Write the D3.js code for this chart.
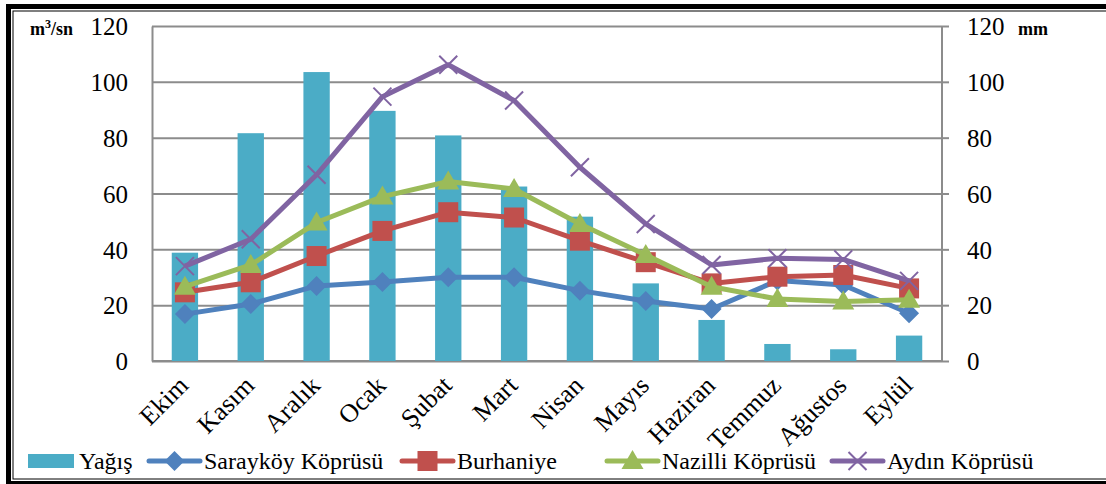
<!DOCTYPE html>
<html>
<head>
<meta charset="utf-8">
<script src="https://cdn.jsdelivr.net/npm/d3@7"></script>
<style>
  body { margin: 0; background: #fff; }
  svg { display: block; }
  svg text { font-family: "Liberation Serif", "Times New Roman", serif; }
</style>
</head>
<body>
<div id="main"></div>
<script>
const w = 1106, h = 484;
const months = ['Ekim', 'Kasım', 'Aralık', 'Ocak', 'Şubat', 'Mart', 'Nisan', 'Mayıs', 'Haziran', 'Temmuz', 'Ağustos', 'Eylül'];
const yagis = [38.8, 81.6, 103.5, 89.6, 80.8, 62.5, 51.7, 27.8, 14.7, 6.1, 4.2, 9.1];
const saraykoy = [16.8, 20.4, 26.9, 28.3, 30.0, 30.0, 25.2, 21.5, 18.6, 28.8, 27.2, 17.1];
const burhaniye = [24.6, 28.2, 37.6, 46.6, 53.3, 51.4, 43.1, 35.4, 27.8, 30.2, 30.8, 26.0];
const nazilli = [26.6, 34.4, 49.6, 58.9, 64.3, 61.6, 49.1, 38.0, 26.6, 22.2, 21.3, 21.9];
const aydin = [34.0, 43.6, 66.7, 94.7, 106.1, 93.3, 69.4, 49.1, 34.4, 36.8, 36.4, 28.7];
const yTicks = [0, 20, 40, 60, 80, 100, 120];

const series = [
  { name: 'Sarayköy Köprüsü', values: saraykoy, color: '#4f81bd', marker: 'diamond' },
  { name: 'Burhaniye', values: burhaniye, color: '#c0504d', marker: 'square' },
  { name: 'Nazilli Köprüsü', values: nazilli, color: '#9bbb59', marker: 'triangle' },
  { name: 'Aydın Köprüsü', values: aydin, color: '#8064a2', marker: 'cross' }
];
const barColor = '#4bacc6', gridColor = '#8c8c8c';
const serif = '"Liberation Serif", "Times New Roman", serif';

const plotLeft = 152, plotRight = 942, plotTop = 26, plotBottom = 361;

const svg = d3.select('#main').append('svg')
  .attr('width', w).attr('height', h);

// frame
svg.append('rect').attr('x', 8.5).attr('y', 6.5).attr('width', 1200).attr('height', 477)
  .attr('fill', 'none').attr('stroke', '#000').attr('stroke-width', 5);
svg.append('rect').attr('x', 13).attr('y', 11).attr('width', 1200).attr('height', 468)
  .attr('fill', 'none').attr('stroke', '#000').attr('stroke-width', 1);

const x = d3.scaleBand().domain(months).range([plotLeft, plotRight]).paddingInner(0.6).paddingOuter(0.3);
const xc = d => x(d) + x.bandwidth() / 2;
const y = d3.scaleLinear().domain([0, 120]).range([plotBottom, plotTop]);

// grid
const grid = svg.append('g').attr('transform', 'translate(' + plotLeft + ',0)')
  .call(d3.axisLeft(y).tickValues(yTicks).tickSize(-(plotRight - plotLeft)).tickFormat(''));
grid.select('.domain').remove();
grid.selectAll('line').attr('stroke', gridColor).attr('stroke-width', 2);

// left axis
const yLeft = svg.append('g').attr('transform', 'translate(' + plotLeft + ',0)')
  .call(d3.axisLeft(y).tickValues(yTicks).tickSize(0).tickPadding(24));
yLeft.attr('font-family', serif);
yLeft.select('.domain').attr('stroke', gridColor).attr('stroke-width', 2);
yLeft.selectAll('text').attr('font-size', 25).attr('fill', '#000').attr('dy', '0.35em');

// right axis
const yRight = svg.append('g').attr('transform', 'translate(' + plotRight + ',0)')
  .call(d3.axisRight(y).tickValues(yTicks).tickSize(7).tickPadding(18));
yRight.attr('font-family', serif);
yRight.select('.domain').attr('stroke', gridColor).attr('stroke-width', 2).attr('d', 'M0,' + plotTop + 'V' + plotBottom);
yRight.selectAll('line').attr('stroke', gridColor).attr('stroke-width', 2);
yRight.selectAll('text').attr('font-size', 25).attr('fill', '#000').attr('dy', '0.35em');

// bottom axis
const xAxis = svg.append('g').attr('transform', 'translate(0,' + plotBottom + ')')
  .call(d3.axisBottom(x).tickSize(0).tickPadding(0));
xAxis.attr('font-family', serif);
xAxis.select('.domain').attr('stroke', gridColor).attr('stroke-width', 2)
  .attr('d', 'M' + plotLeft + ',0H' + plotRight);
xAxis.selectAll('text')
  .attr('font-size', 26).attr('fill', '#000')
  .attr('text-anchor', 'end')
  .attr('dy', 0)
  .attr('transform', 'translate(5,26) rotate(-45)');

// unit labels
svg.append('text').attr('x', 30).attr('y', 35).attr('font-size', 18).attr('font-weight', 'bold')
  .attr('font-family', serif)
  .html('m<tspan font-size="12" dy="-7">3</tspan><tspan dy="7">/sn</tspan>');
svg.append('text').attr('x', 1018).attr('y', 35).attr('font-size', 18).attr('font-weight', 'bold')
  .attr('font-family', serif).text('mm');

// bars
svg.append('g').selectAll('rect').data(yagis).join('rect')
  .attr('x', (d, i) => x(months[i]))
  .attr('y', d => y(d))
  .attr('width', x.bandwidth())
  .attr('height', d => plotBottom - y(d))
  .attr('fill', barColor);

function drawMarker(g, type, color) {
  if (type === 'diamond') {
    g.append('path').attr('d', 'M0,-10L10,0L0,10L-10,0Z').attr('fill', color);
  } else if (type === 'square') {
    g.append('rect').attr('x', -10).attr('y', -10).attr('width', 20).attr('height', 20).attr('fill', color);
  } else if (type === 'triangle') {
    g.append('path').attr('d', 'M0,-11L11,8L-11,8Z').attr('fill', color);
  } else {
    g.append('path').attr('d', 'M-9,-9L9,9M-9,9L9,-9').attr('stroke', color).attr('stroke-width', 2).attr('fill', 'none');
  }
}

const line = d3.line().x((d, i) => xc(months[i])).y(d => y(d));
series.forEach(s => {
  const g = svg.append('g');
  g.append('path').datum(s.values).attr('d', line)
    .attr('fill', 'none').attr('stroke', s.color).attr('stroke-width', 5)
    .attr('stroke-linejoin', 'round');
  s.values.forEach((v, i) => {
    const m = g.append('g').attr('transform', 'translate(' + xc(months[i]) + ',' + y(v) + ')');
    drawMarker(m, s.marker, s.color);
  });
});

// legend
const legendY = 461;
const legend = svg.append('g').attr('font-size', 24).attr('font-family', serif);
legend.append('rect').attr('x', 28).attr('y', legendY - 7).attr('width', 46).attr('height', 14).attr('fill', barColor);
legend.append('text').attr('x', 79).attr('y', legendY + 8).text('Yağış');
const legendX = [149, 402, 607, 832];
series.forEach((s, i) => {
  const lx = legendX[i];
  legend.append('line').attr('x1', lx).attr('x2', lx + 51).attr('y1', legendY).attr('y2', legendY)
    .attr('stroke', s.color).attr('stroke-width', 5).attr('stroke-linecap', 'round');
  const m = legend.append('g').attr('transform', 'translate(' + (lx + 25.5) + ',' + legendY + ')');
  drawMarker(m, s.marker, s.color);
  legend.append('text').attr('x', lx + 55).attr('y', legendY + 8).text(s.name);
});
</script>
</body>
</html>
